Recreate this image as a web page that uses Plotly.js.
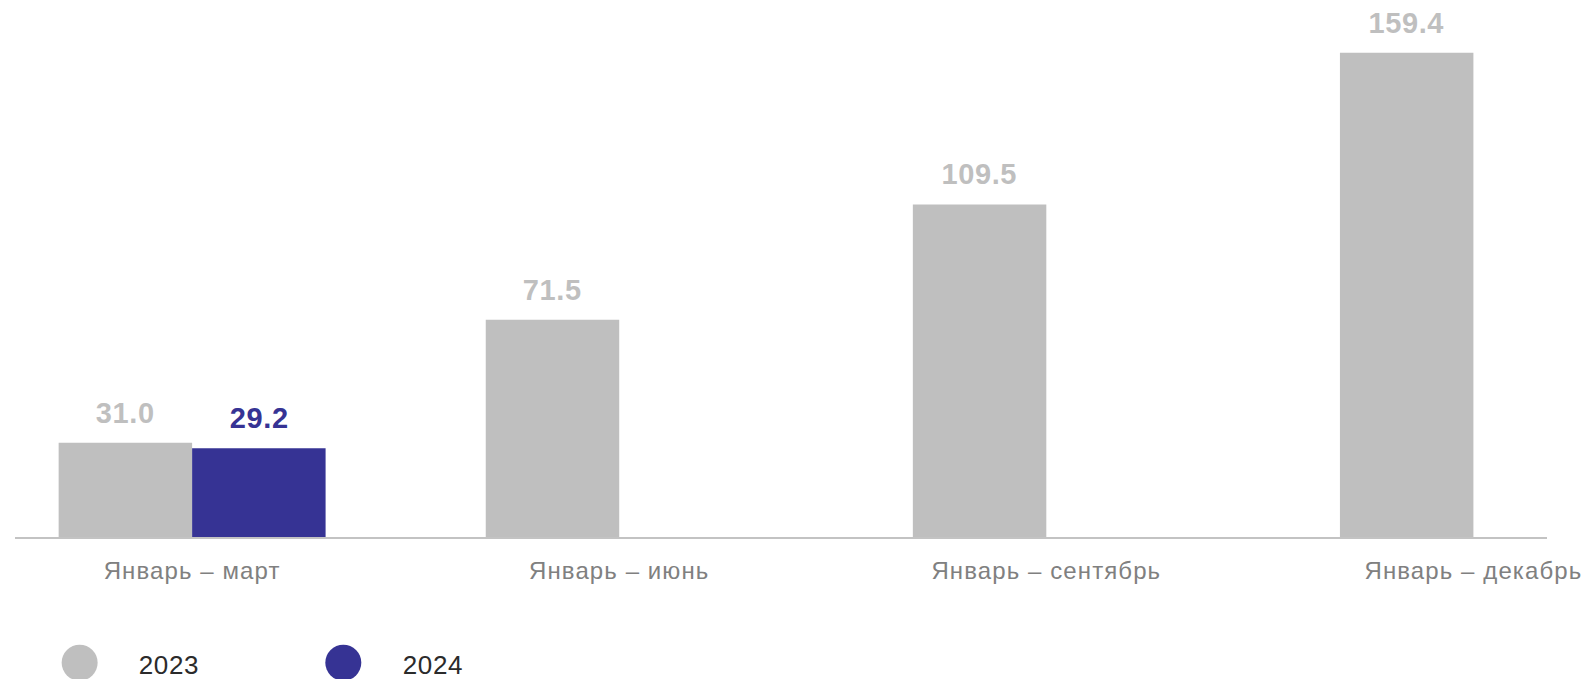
<!DOCTYPE html>
<html>
<head>
<meta charset="utf-8">
<script src="https://cdn.plot.ly/plotly-3.0.1.min.js"></script>
<style>
html,body{margin:0;padding:0;background:#fff;}
#chart{width:1586px;height:679px;}
#chart .xtick text{letter-spacing:1.1px;}
#chart .annotation-text{letter-spacing:0.6px;}
</style>
</head>
<body>
<div id="chart"></div>
<script>
const categories = ['Январь – март', 'Январь – июнь', 'Январь – сентябрь', 'Январь – декабрь'];
const seriesNames = ['2023', '2024'];
const values2023 = [31.0, 71.5, 109.5, 159.4];
const values2024 = [29.2, null, null, null];

const colors = ['#bfbfbf', '#363394'];
const labelColors = ['#bfbfbf', '#363394'];
const bargap = 0.375;
const FONT = 'Liberation Sans, Arial, sans-serif';

const series = [values2023, values2024];
const traces = series.map((vals, i) => ({
  type: 'bar',
  name: seriesNames[i],
  x: categories,
  y: vals,
  marker: {color: colors[i]},
  showlegend: false,
  hoverinfo: 'skip'
}));

// value labels above bars
const half = (1 - bargap) / 4;
const annotations = [];
series.forEach((vals, s) => {
  vals.forEach((v, i) => {
    if (v === null) return;
    annotations.push({
      x: i + (s === 0 ? -half : half), xref: 'x',
      y: v, yref: 'y',
      text: v.toFixed(1),
      showarrow: false,
      yanchor: 'bottom',
      yshift: 12,
      font: {family: FONT, size: 29, color: labelColors[s], weight: 'bold'}
    });
  });
});

// custom legend (large circles)
const legendX = [0.0422, 0.2143];
const legendTextX = [0.0805, 0.2528];
const legendY = -0.2586;
const shapes = [];
seriesNames.forEach((n, i) => {
  shapes.push({
    type: 'circle', xref: 'paper', yref: 'paper',
    xsizemode: 'pixel', ysizemode: 'pixel',
    xanchor: legendX[i], yanchor: legendY,
    x0: -18, x1: 18, y0: -18, y1: 18,
    fillcolor: colors[i], line: {width: 0}
  });
  annotations.push({
    x: legendTextX[i], xref: 'paper', y: legendY - 0.005, yref: 'paper',
    xanchor: 'left', yanchor: 'middle', showarrow: false,
    text: n, font: {family: FONT, size: 26, color: '#2b2b2b'}
  });
});

const layout = {
  width: 1586, height: 679,
  margin: {l: 15, r: 39, t: 51, b: 142},
  paper_bgcolor: '#ffffff', plot_bgcolor: '#ffffff',
  barmode: 'group', bargap: bargap, bargroupgap: 0,
  font: {family: FONT},
  xaxis: {
    type: 'category',
    range: [-0.4147, 3.1723],
    showline: true, linecolor: '#c3c3c3', linewidth: 2,
    ticks: '', showgrid: false, zeroline: false,
    tickfont: {family: FONT, size: 24, color: '#808080'},
    ticklabelstandoff: 11,
    fixedrange: true
  },
  yaxis: {
    range: [0, 160],
    visible: false, showgrid: false, zeroline: false,
    fixedrange: true
  },
  annotations: annotations,
  shapes: shapes
};

Plotly.newPlot('chart', traces, layout, {displayModeBar: false, staticPlot: true});
</script>
</body>
</html>
